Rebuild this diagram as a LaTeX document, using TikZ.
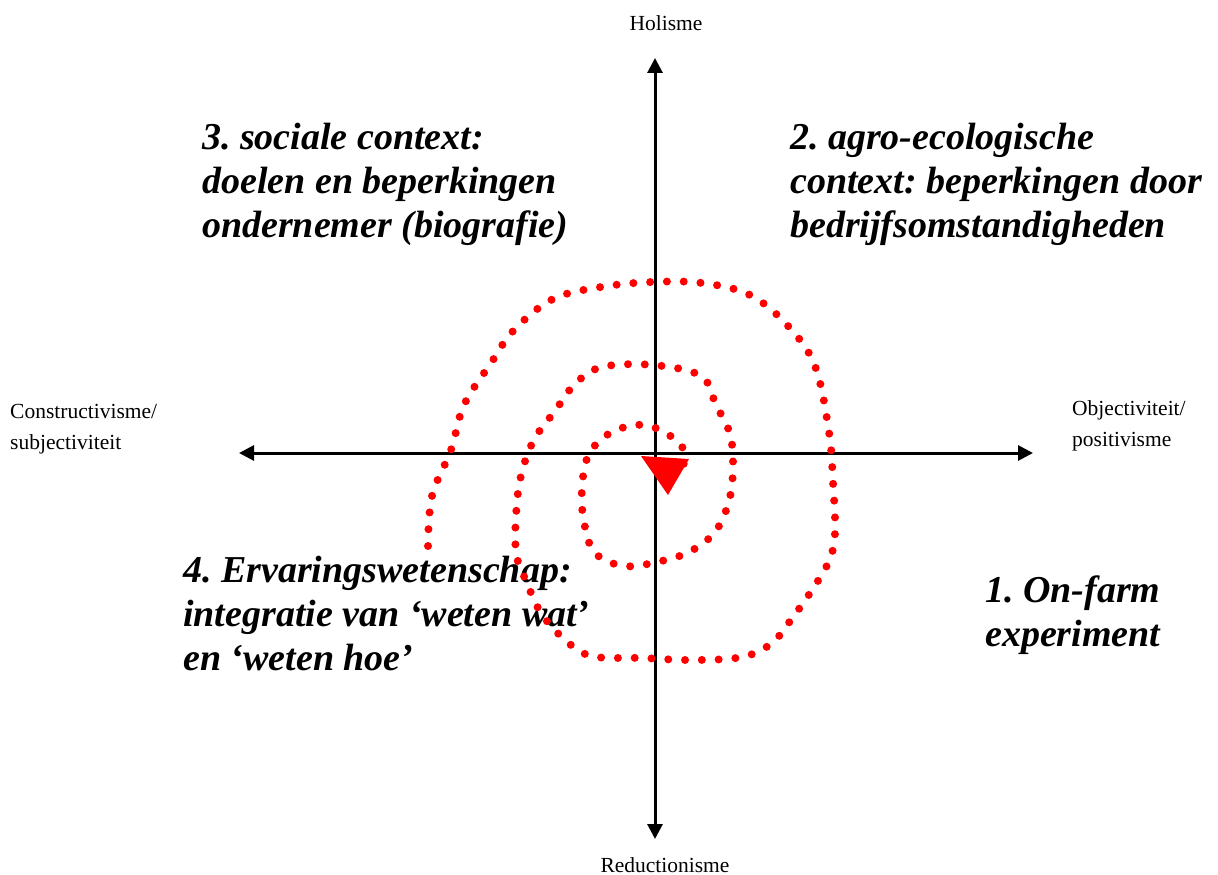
\documentclass[tikz,border=0pt]{standalone}
\usepackage{fontspec}
\setmainfont{Liberation Serif}
\usetikzlibrary{arrows.meta}
\frenchspacing
\begin{document}
\begin{tikzpicture}[x=1pt,y=-1pt,
  axis/.style={line width=3pt,{Triangle[length=15pt,width=15pt]}-{Triangle[length=15pt,width=15pt]}},
  spiral/.style={red,line width=8pt,line cap=round,dash pattern=on 0pt off 16.8pt},
  quad/.style={font=\fontsize{38}{44}\selectfont\bfseries\itshape,align=left,anchor=north west,inner sep=0pt},
  pole/.style={font=\fontsize{21.5}{31}\selectfont,inner sep=0pt,align=left}]
\useasboundingbox (0,0) rectangle (1218,875);
% axes
\coordinate (top) at (655,58);
\coordinate (bot) at (655,839);
\coordinate (lft) at (239,453);
\coordinate (rgt) at (1033,453);
\draw[axis] (bot) -- (top);
\draw[axis] (lft) -- (rgt);
% pole labels
\node[pole,anchor=base] (hol) at (666,31) {Holisme};
\node[pole,anchor=base] (red) at (665,872) {Reductionisme};
\node[pole,anchor=north west] (con) at (10,404) {Constructivisme/\\subjectiviteit};
\node[pole,anchor=north west] (obj) at (1072,400) {Objectiviteit/\\positivisme};
% quadrant texts
\node[quad] (q3) at (202,123) {3. sociale context:\\doelen en beperkingen\\ondernemer (biografie)};
\node[quad] (q2) at (790,123) {2. agro-ecologische\\context: beperkingen door\\bedrijfsomstandigheden};
\node[quad] (q4) at (183,556) {4. Ervaringswetenschap:\\integratie van ‘weten wat’\\en ‘weten hoe’};
\node[quad] (q1) at (985,576) {1. On-farm\\experiment};
% spiral
\draw[spiral] plot[smooth,tension=0.6] coordinates {
 (428,546) (432,496) (451,450) (464,405) (491,363) (514,330) (553,299) (601,287)
 (652,282) (702,283) (750,295) (788,326) (815,366) (829,432) (833,482) (835,533)
 (829,561) (812,590) (793,617) (772,643) (742,657) (692,660) (642,658) (591,656)
 (563,638) (541,613) (527,583) (516,552) (517,502) (523,468) (535,438) (555,411)
 (575,384) (602,367) (653,365) (701,376) (716,405) (730,434) (733,467) (729,501)
 (715,532) (689,552) (657,562) (624,566) (595,553) (584,522) (582,488) (589,454)
 (612,432) (645,425) (675,439) (684,452) (683,468)};
\fill[red] (641,456) -- (689,459) -- (668,495) -- cycle;
\end{tikzpicture}
\end{document}
